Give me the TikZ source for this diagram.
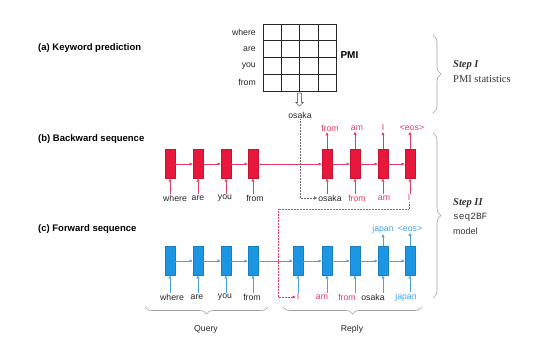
\documentclass[tikz,border=0pt]{standalone}
\usepackage{fontspec}
\setmainfont{Liberation Sans}
\setmonofont{Liberation Mono}
\newfontfamily\stepfont{Liberation Serif}
\usetikzlibrary{positioning,arrows.meta,calc,decorations.pathreplacing,shapes.arrows}
\definecolor{bwred}{RGB}{232,24,60}
\definecolor{bwtext}{RGB}{226,58,98}
\definecolor{fwblue}{RGB}{28,150,226}
\definecolor{fwtext}{RGB}{70,162,232}
\begin{document}
\begin{tikzpicture}[x=1pt, y=-1pt,
  font=\fontsize{8.7}{10}\selectfont,
  hdr/.style={font=\bfseries\fontsize{9.5}{11}\selectfont, anchor=west, inner sep=0pt},
  word/.style={inner sep=1pt, text=black!85},
  cellbw/.style={draw=bwred!85!black, line width=0.3pt, fill=bwred, minimum width=10.5pt, minimum height=29pt, inner sep=0pt},
  cellfw/.style={draw=fwblue!85!black, line width=0.3pt, fill=fwblue, minimum width=10.5pt, minimum height=29pt, inner sep=0pt},
  arrbw/.style={-{Triangle[length=3pt, width=3pt]}, draw=bwtext, line width=0.5pt},
  arrfw/.style={-{Triangle[length=3pt, width=3pt]}, draw=fwtext, line width=0.5pt},
  gridline/.style={draw=black!85, line width=0.7pt},
  openarr/.style={single arrow, draw=black!80, fill=white, line width=0.5pt, shape border rotate=270,
    minimum height=13pt, inner sep=1.6pt, single arrow head extend=2pt},
  brc/.style={decorate, decoration={brace, amplitude=8pt}, draw=gray!75, line width=0.6pt},
  steptxt/.style={anchor=west, inner sep=0pt, font=\stepfont\fontsize{10.5}{12}\selectfont, text=black!80}
]
\useasboundingbox (0,0) rectangle (555,360);
% section headers
\node[hdr] (hdr-kw) at (38,48) {(a) Keyword prediction};
\node[hdr] (hdr-bw) at (38,139) {(b) Backward sequence};
\node[hdr] (hdr-fw) at (38,229) {(c) Forward sequence};
% PMI grid
\node[draw=black!85, line width=0.7pt, minimum width=73pt, minimum height=67pt, inner sep=0pt] (pmi-grid) at (299.5,57.5) {};
\draw[gridline] ($(pmi-grid.north west)!0.25!(pmi-grid.north east)$) -- ($(pmi-grid.south west)!0.25!(pmi-grid.south east)$);
\draw[gridline] ($(pmi-grid.north west)!0.50!(pmi-grid.north east)$) -- ($(pmi-grid.south west)!0.50!(pmi-grid.south east)$);
\draw[gridline] ($(pmi-grid.north west)!0.75!(pmi-grid.north east)$) -- ($(pmi-grid.south west)!0.75!(pmi-grid.south east)$);
\draw[gridline] ($(pmi-grid.north west)!0.25!(pmi-grid.south west)$) -- ($(pmi-grid.north east)!0.25!(pmi-grid.south east)$);
\draw[gridline] ($(pmi-grid.north west)!0.50!(pmi-grid.south west)$) -- ($(pmi-grid.north east)!0.50!(pmi-grid.south east)$);
\draw[gridline] ($(pmi-grid.north west)!0.75!(pmi-grid.south west)$) -- ($(pmi-grid.north east)!0.75!(pmi-grid.south east)$);
\node[word, anchor=east] (row-where) at (257,32.4) {where};
\node[word, anchor=east] (row-are) at (257,49.1) {are};
\node[word, anchor=east] (row-you) at (257,65.9) {you};
\node[word, anchor=east] (row-from) at (257,82.6) {from};
\node[font=\bfseries\fontsize{10}{12}\selectfont, anchor=west] (pmi-label) at (337,55) {PMI};
\node[openarr, anchor=tail] (kw-arrow) at ([yshift=-1.5pt]pmi-grid.south) {};
\node[word] (kw-osaka) at (300,115) {osaka};
% backward sequence
\node[cellbw] (bw-1) at (170,164) {};
\node[cellbw] (bw-2) at (198,164) {};
\node[cellbw] (bw-3) at (226,164) {};
\node[cellbw] (bw-4) at (253,164) {};
\node[cellbw] (bw-5) at (327,164) {};
\node[cellbw] (bw-6) at (355,164) {};
\node[cellbw] (bw-7) at (383,164) {};
\node[cellbw] (bw-8) at (410,164) {};
\node[word, text=bwtext] (bw-out-5) at (330,128) {from};
\node[word, text=bwtext] (bw-out-6) at (357,128) {am};
\node[word, text=bwtext] (bw-out-7) at (383,128) {I};
\node[word, text=bwtext] (bw-out-8) at (412,128) {\textless eos\textgreater};
\node[word] (bw-in-1) at (175,198) {where};
\node[word] (bw-in-2) at (198,198) {are};
\node[word] (bw-in-3) at (225,198) {you};
\node[word] (bw-in-4) at (255,198) {from};
\node[word] (bw-in-5) at (330,198) {osaka};
\node[word, text=bwtext] (bw-in-6) at (357,198) {from};
\node[word, text=bwtext] (bw-in-7) at (384,198) {am};
\node[word, text=bwtext] (bw-in-8) at (409,198) {I};
\draw[arrbw] (bw-1.east) -- (bw-2.west);
\draw[arrbw] (bw-2.east) -- (bw-3.west);
\draw[arrbw] (bw-3.east) -- (bw-4.west);
\draw[arrbw] (bw-4.east) -- (bw-5.west);
\draw[arrbw] (bw-5.east) -- (bw-6.west);
\draw[arrbw] (bw-6.east) -- (bw-7.west);
\draw[arrbw] (bw-7.east) -- (bw-8.west);
\draw[arrbw] (bw-1.south |- bw-in-1.north) -- (bw-1.south);
\draw[arrbw] (bw-2.south |- bw-in-2.north) -- (bw-2.south);
\draw[arrbw] (bw-3.south |- bw-in-3.north) -- (bw-3.south);
\draw[arrbw] (bw-4.south |- bw-in-4.north) -- (bw-4.south);
\draw[arrbw] (bw-5.south |- bw-in-5.north) -- (bw-5.south);
\draw[arrbw] (bw-6.south |- bw-in-6.north) -- (bw-6.south);
\draw[arrbw] (bw-7.south |- bw-in-7.north) -- (bw-7.south);
\draw[arrbw] (bw-8.south |- bw-in-8.north) -- (bw-8.south);
\draw[arrbw] (bw-5.north) -- (bw-5.north |- bw-out-5.south);
\draw[arrbw] (bw-6.north) -- (bw-6.north |- bw-out-6.south);
\draw[arrbw] (bw-7.north) -- (bw-7.north |- bw-out-7.south);
\draw[arrbw] (bw-8.north) -- (bw-8.north |- bw-out-8.south);
\draw[densely dotted, draw=black!60, line width=0.5pt, -{Triangle[length=3pt, width=3pt]}]
  (kw-osaka.south) -- (kw-osaka.south |- bw-in-5.west) -- (bw-in-5.west);
% forward sequence
\node[cellfw] (fw-1) at (170,261) {};
\node[cellfw] (fw-2) at (198,261) {};
\node[cellfw] (fw-3) at (226,261) {};
\node[cellfw] (fw-4) at (253,261) {};
\node[cellfw] (fw-5) at (298,261) {};
\node[cellfw] (fw-6) at (327,261) {};
\node[cellfw] (fw-7) at (355,261) {};
\node[cellfw] (fw-8) at (383,261) {};
\node[cellfw] (fw-9) at (410,261) {};
\node[word, text=fwtext] (fw-out-8) at (383,229) {japan};
\node[word, text=fwtext] (fw-out-9) at (410,229) {\textless eos\textgreater};
\node[word] (fw-in-1) at (172,297) {where};
\node[word] (fw-in-2) at (197,297) {are};
\node[word] (fw-in-3) at (225,297) {you};
\node[word] (fw-in-4) at (252,297) {from};
\node[word, text=bwtext] (fw-in-5) at (298,297) {I};
\node[word, text=bwtext] (fw-in-6) at (322,297) {am};
\node[word, text=bwtext] (fw-in-7) at (347,297) {from};
\node[word] (fw-in-8) at (373,297) {osaka};
\node[word, text=fwtext] (fw-in-9) at (406,297) {japan};
\draw[arrfw] (fw-1.east) -- (fw-2.west);
\draw[arrfw] (fw-2.east) -- (fw-3.west);
\draw[arrfw] (fw-3.east) -- (fw-4.west);
\draw[arrfw] (fw-4.east) -- (fw-5.west);
\draw[arrfw] (fw-5.east) -- (fw-6.west);
\draw[arrfw] (fw-6.east) -- (fw-7.west);
\draw[arrfw] (fw-7.east) -- (fw-8.west);
\draw[arrfw] (fw-8.east) -- (fw-9.west);
\draw[arrfw] (fw-1.south |- fw-in-1.north) -- (fw-1.south);
\draw[arrfw] (fw-2.south |- fw-in-2.north) -- (fw-2.south);
\draw[arrfw] (fw-3.south |- fw-in-3.north) -- (fw-3.south);
\draw[arrfw] (fw-4.south |- fw-in-4.north) -- (fw-4.south);
\draw[arrfw] (fw-5.south |- fw-in-5.north) -- (fw-5.south);
\draw[arrfw] (fw-6.south |- fw-in-6.north) -- (fw-6.south);
\draw[arrfw] (fw-7.south |- fw-in-7.north) -- (fw-7.south);
\draw[arrfw] (fw-8.south |- fw-in-8.north) -- (fw-8.south);
\draw[arrfw] (fw-9.south |- fw-in-9.north) -- (fw-9.south);
\draw[arrfw] (fw-8.north) -- (fw-8.north |- fw-out-8.south);
\draw[arrfw] (fw-9.north) -- (fw-9.north |- fw-out-9.south);
\coordinate (fw-turn) at (278,209);
\draw[densely dotted, draw=bwtext, line width=0.5pt, -{Triangle[length=3pt, width=3pt]}]
  (bw-in-8.south) -- (bw-in-8.south |- fw-turn) -- (fw-turn) -- (fw-turn |- fw-in-5.west) -- (fw-in-5.west);
% braces
\coordinate (step1-top) at (433,35);
\coordinate (step1-bot) at (433,113);
\coordinate (step2-top) at (433,133);
\coordinate (step2-bot) at (433,298);
\draw[brc] (step1-top) -- (step1-bot);
\draw[brc] (step2-top) -- (step2-bot);
\node[steptxt] (step1-title) at (453,65) {\bfseries\itshape Step I};
\node[steptxt] (step1-desc) at (453,79) {PMI statistics};
\node[steptxt] (step2-title) at (453,203) {\bfseries\itshape Step II};
\node[steptxt, font=\ttfamily\fontsize{9.5}{11}\selectfont] (step2-model) at (453,217) {seq2BF};
\node[steptxt, font=\fontsize{9}{10}\selectfont] (step2-desc) at (453,231) {model};
\coordinate (query-r) at (268,307);
\coordinate (query-l) at (145,307);
\coordinate (reply-r) at (422,307);
\coordinate (reply-l) at (283,307);
\draw[brc, decoration={amplitude=7pt}] (query-r) -- (query-l);
\draw[brc, decoration={amplitude=7pt}] (reply-r) -- (reply-l);
\node[word] (query-label) at (206,329) {Query};
\node[word] (reply-label) at (352,329) {Reply};
\end{tikzpicture}
\end{document}
